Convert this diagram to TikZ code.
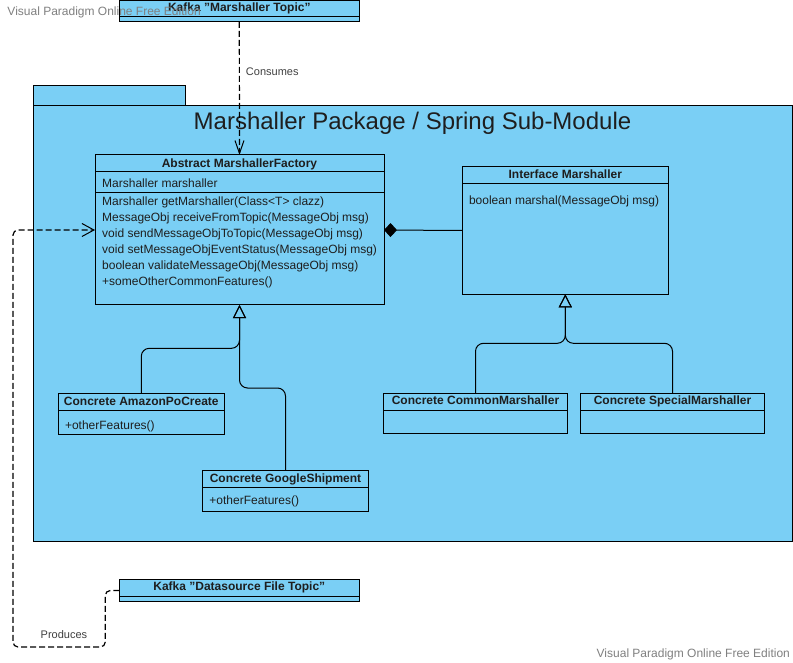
\documentclass[tikz,border=0pt]{standalone}
\usepackage{fontspec}
\setmainfont{Liberation Sans}
\usetikzlibrary{arrows.meta,positioning}
\definecolor{vpblue}{RGB}{122,207,245}
\definecolor{vpgray}{RGB}{128,128,128}
\definecolor{vptext}{RGB}{30,30,30}
\tikzset{
    classbox/.style={draw, fill=vpblue, line width=1pt, anchor=north west,
        inner sep=0pt, outer sep=0pt},
    header/.style={font=\bfseries\fontsize{12}{14}\selectfont, text=vptext,
        anchor=base, inner sep=0pt},
    member/.style={font=\fontsize{12}{14}\selectfont, text=vptext,
        anchor=base west, inner sep=0pt},
    flowlabel/.style={font=\fontsize{11}{13}\selectfont, text=vptext!85,
        anchor=base west, inner sep=0pt},
    watermark/.style={font=\fontsize{12}{14}\selectfont, text=vpgray,
        anchor=base west, inner sep=0pt},
    depline/.style={line width=1.2pt, dash pattern=on 6pt off 3pt},
    genline/.style={line width=1pt, rounded corners=8pt,
        -{Triangle[open, length=13pt, width=13pt, line width=1pt]}},
}
\newcommand\sepline[2]{\draw[line width=1pt] ([yshift=-#2]#1.north west) -- ([yshift=-#2]#1.north east);}

\begin{document}
\begin{tikzpicture}[x=1pt, y=-1pt]
\useasboundingbox (0,0) rectangle (793,663);
\fill[white] (0,0) rectangle (793,663);

% package with its tab
\node[classbox, minimum width=152pt, minimum height=20pt] (tab) at (33,86) {};
\node[classbox, minimum width=759pt, minimum height=435pt] (pkg) at (33,106) {};
\node[font=\fontsize{24}{28}\selectfont, text=vptext, anchor=base, inner sep=0pt]
    (pkg-title) at ([yshift=-24pt]pkg.north) {Marshaller Package / Spring Sub-Module};

% kafka topics
\node[classbox, minimum width=240pt, minimum height=21.5pt] (kafkaM) at (119.3,0.5) {};
\node[header] (kafkaM-h) at ([yshift=-11pt]kafkaM.north) {Kafka "Marshaller Topic"};
\sepline{kafkaM}{16.5pt}
\node[classbox, minimum width=240pt, minimum height=22.4pt] (kafkaD) at (119.3,579.3) {};
\node[header] (kafkaD-h) at ([yshift=-11.4pt]kafkaD.north) {Kafka "Datasource File Topic"};
\sepline{kafkaD}{16.7pt}

% abstract factory
\node[classbox, minimum width=289pt, minimum height=150pt] (factory) at (95,155) {};
\node[header] (factory-h) at ([yshift=-12.3pt]factory.north) {Abstract MarshallerFactory};
\sepline{factory}{17pt}
\node[member] (factory-a) at ([xshift=7pt, yshift=-32.3pt]factory.north west) {Marshaller marshaller};
\sepline{factory}{38pt}
\foreach \m [count=\i from 0] in {
    {Marshaller getMarshaller(Class<T> clazz)},
    {MessageObj receiveFromTopic(MessageObj msg)},
    {void sendMessageObjToTopic(MessageObj msg)},
    {void setMessageObjEventStatus(MessageObj msg)},
    {boolean validateMessageObj(MessageObj msg)},
    {+someOtherCommonFeatures()}}{
    \node[member] (factory-m\i) at ([xshift=7pt, yshift={-50.7pt-15.9pt*\i}]factory.north west) {\m};
}

% interface
\node[classbox, minimum width=206pt, minimum height=127.6pt] (iface) at (462.3,166.7) {};
\node[header] (iface-h) at ([yshift=-11.6pt]iface.north) {Interface Marshaller};
\sepline{iface}{16.6pt}
\node[member] (iface-m) at ([xshift=6.5pt, yshift=-37.6pt]iface.north west) {boolean marshal(MessageObj msg)};

% concrete classes
\node[classbox, minimum width=166pt, minimum height=41pt] (amazon) at (58.3,393.3) {};
\node[header] (amazon-h) at ([yshift=-11.7pt]amazon.north) {Concrete AmazonPoCreate};
\sepline{amazon}{17.4pt}
\node[member] (amazon-m) at ([xshift=6.5pt, yshift=-36.5pt]amazon.north west) {+otherFeatures()};

\node[classbox, minimum width=165.6pt, minimum height=41pt] (google) at (202.7,470) {};
\node[header] (google-h) at ([yshift=-12pt]google.north) {Concrete GoogleShipment};
\sepline{google}{17.7pt}
\node[member] (google-m) at ([xshift=6.5pt, yshift=-34.3pt]google.north west) {+otherFeatures()};

\node[classbox, minimum width=184.4pt, minimum height=40pt] (common) at (383.3,393.3) {};
\node[header] (common-h) at ([yshift=-11.3pt]common.north) {Concrete CommonMarshaller};
\sepline{common}{17.4pt}

\node[classbox, minimum width=184.4pt, minimum height=40pt] (special) at (580.3,393.3) {};
\node[header] (special-h) at ([yshift=-11.3pt]special.north) {Concrete SpecialMarshaller};
\sepline{special}{17.4pt}

% connectors
\draw[depline, -{Straight Barb[length=13pt, width=9pt, line width=1pt]}]
    (kafkaM.south) -- (factory.north) node[flowlabel, pos=0.4, xshift=6pt] (consumes) {Consumes};
\draw[line width=1pt, -{Diamond[length=13pt, width=14pt]}] (iface.west) -- (factory.east);
\draw[genline] (amazon.north) -- ++(0,-45) -| (factory.south);
\draw[genline] (google.north) -- ++(0,-82) -| (factory.south);
\draw[genline] (common.north) -- ++(0,-50) -| (iface.south);
\draw[genline] (special.north) -- ++(0,-50) -| (iface.south);
\draw[depline, rounded corners=5pt, -{Straight Barb[length=12pt, width=13pt, line width=1pt]}]
    (kafkaD.west) -- ++(-14,0) -- ++(0,56.5) -| (13,0 |- factory.west) -- (factory.west);
\node[flowlabel] (produces) at (40.5,638.3) {Produces};

% watermarks
\node[watermark] (wm-top) at (7.3,16) {Visual Paradigm Online Free Edition};
\node[watermark] (wm-bottom) at (596.5,657) {Visual Paradigm Online Free Edition};
\end{tikzpicture}
\end{document}
